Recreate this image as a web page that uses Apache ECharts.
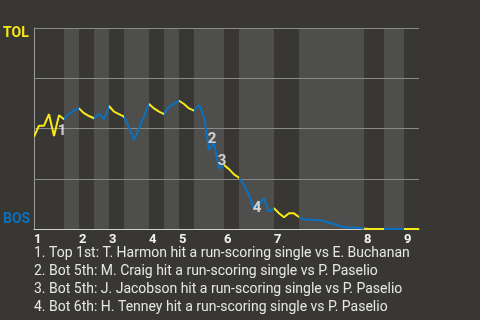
<!DOCTYPE html>
<html>
<head>
<meta charset="utf-8">
<script src="https://cdn.jsdelivr.net/npm/echarts@6/dist/echarts.min.js"></script>
<style>
html,body{margin:0;padding:0;background:#383734;}
#chart{width:480px;height:320px;}
</style>
</head>
<body>
<div id="chart"></div>
<script>
// Win probability for TOL (100 = TOL wins, 0 = BOS wins), one value per plate appearance
const winProb = [
  45.9, 51.4, 51.4, 57.1, 46.3, 56.6, 54.6,
  57.2, 58.9, 60.0,
  57.6, 56.2, 55.1,
  57.2, 54.6, 61.2,
  58.4, 57.2, 55.9,
  50.5, 44.3, 50.0, 56.0, 62.2,
  60.0, 58.4, 57.2,
  60.8, 62.3, 63.8,
  62.2, 60.0, 58.9,
  61.7, 55.9, 39.5, 42.6, 30.2, 31.8,
  29.8, 27.2, 25.5,
  21.9, 16.9, 10.3, 12.4, 15.3, 8.6, 10.3,
  7.8, 5.8, 7.8, 7.8, 6.0,
  4.8, 4.6, 4.5, 4.5, 4.0, 3.1, 2.5, 1.6, 1.0, 0.7, 0.7, 0.5, 0.2,
  0, 0, 0, 0,
  0, 0, 0, 0,
  0, 0, 0
];
// Plate-appearance index where each half inning starts (top 1st ... top 9th, end)
const halfInningBounds = [0, 6, 9, 12, 15, 18, 23, 26, 29, 32, 38, 41, 48, 53, 66, 70, 74, 77];
const inningLabels = ['1', '2', '3', '4', '5', '6', '7', '8', '9'];
const eventIndex = [6, 35, 37, 44];
const eventLabels = ['1', '2', '3', '4'];
const eventOffsets = [[-2, 12], [3, -10], [3, -7], [3, 0]];
const eventTexts = [
  '1. Top 1st: T. Harmon hit a run-scoring single vs E. Buchanan',
  '2. Bot 5th: M. Craig hit a run-scoring single vs P. Paselio',
  '3. Bot 5th: J. Jacobson hit a run-scoring single vs P. Paselio',
  '4. Bot 6th: H. Tenney hit a run-scoring single vs P. Paselio'
];
const gridValues = [25, 50, 75, 100];
const teamTop = 'TOL';
const teamBottom = 'BOS';

const YELLOW = '#f8e817';
const BLUE = '#0b70bf';

const lineData = winProb.map((v, i) => [i, v]);
const inningStarts = halfInningBounds.filter((b, i) => i % 2 === 0 && i < halfInningBounds.length - 1);

const pieces = [];
const bands = [];
for (let i = 0; i < halfInningBounds.length - 1; i++) {
  pieces.push({ gte: halfInningBounds[i], lt: halfInningBounds[i + 1], color: i % 2 === 0 ? YELLOW : BLUE });
  if (i % 2 === 1) bands.push([{ xAxis: halfInningBounds[i] }, { xAxis: halfInningBounds[i + 1] }]);
}
pieces[pieces.length - 1].lte = halfInningBounds[halfInningBounds.length - 1];
delete pieces[pieces.length - 1].lt;

const eventData = eventIndex.map((idx, k) => ({
  value: [idx, winProb[idx]],
  label: { formatter: eventLabels[k], offset: eventOffsets[k] }
}));

const chart = echarts.init(document.getElementById('chart'), null, { renderer: 'canvas' });
chart.setOption({
  backgroundColor: '#383734',
  animation: false,
  grid: { left: 34, right: 61, top: 28, bottom: 91 },
  xAxis: {
    type: 'value', min: 0, max: halfInningBounds[halfInningBounds.length - 1],
    axisLine: { show: true, lineStyle: { color: '#d0d0d0', width: 1 } },
    axisTick: { show: false },
    splitLine: { show: false },
    axisLabel: {
      customValues: inningStarts,
      formatter: v => inningLabels[inningStarts.indexOf(v)] || '',
      align: 'left', color: '#f2f2f2', fontWeight: 'bold', fontSize: 13,
      fontFamily: 'Roboto', margin: 4
    }
  },
  yAxis: {
    type: 'value', min: 0, max: 100, interval: 25,
    axisLine: { show: true, lineStyle: { color: '#9a9a9a', width: 1 } },
    axisTick: { show: false },
    axisLabel: { show: false },
    splitLine: { show: false }
  },
  visualMap: {
    show: false, type: 'piecewise', dimension: 0, seriesIndex: 1, pieces: pieces
  },
  series: [
    {
      type: 'line', data: [], silent: true,
      markArea: { silent: true, itemStyle: { color: '#4e4e4c' }, data: bands },
      markLine: {
        silent: true, symbol: 'none', z: 1.5,
        label: { show: false },
        lineStyle: { color: '#8a8a8a', width: 1, type: 'solid' },
        data: gridValues.map(v => ({ yAxis: v }))
      }
    },
    {
      type: 'line', data: lineData, showSymbol: false, symbol: 'none',
      lineStyle: { width: 2 }, z: 3
    },
    {
      type: 'scatter', data: eventData, symbolSize: 0, z: 4, silent: true,
      label: {
        show: true, position: 'inside', color: '#f4f4f4', fontWeight: 'bold',
        fontSize: 15, fontFamily: 'Roboto'
      }
    }
  ],
  graphic: [
    { type: 'text', left: 3, top: 26, style: { text: teamTop, fill: YELLOW, font: 'bold 14px Roboto' } },
    { type: 'text', left: 3, top: 212, style: { text: teamBottom, fill: BLUE, font: 'bold 14px Roboto' } },
    { type: 'text', left: 34, top: 244, style: { text: eventTexts.join('\n'), fill: '#e6e6e6', font: '14px Roboto', lineHeight: 18 } }
  ]
});
</script>
</body>
</html>
